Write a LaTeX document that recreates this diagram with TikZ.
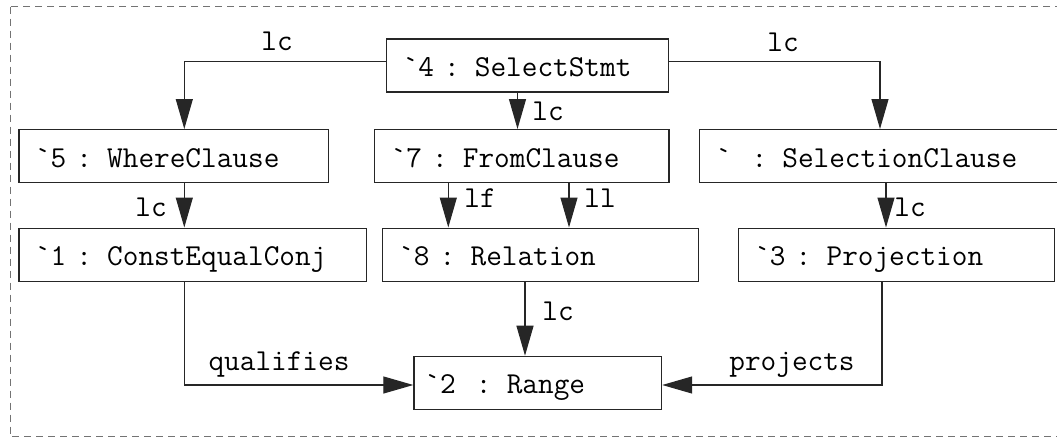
\documentclass[tikz,border=0pt]{standalone}
\usetikzlibrary{arrows.meta}
\newcommand{\dgfont}{\fontsize{30.4}{36}\selectfont\ttfamily}
\begin{document}
\begin{tikzpicture}[x=1pt,y=-1pt,
  box/.style={draw=black!85, line width=1.2pt, anchor=north west,
    inner xsep=16pt, inner ysep=0pt, minimum height=53pt, align=left,
    text height=28pt, text depth=6pt, font=\dgfont},
  lbl/.style={anchor=base, font=\dgfont, inner sep=0pt},
  arr/.style={draw=black!85, line width=1.2pt, -{Triangle[length=30pt,width=17pt]}},
  frame/.style={draw=black!55, line width=1pt, dash pattern=on 7pt off 5pt}]
\useasboundingbox (0,0) rectangle (1057,439);
\clip (0,0) rectangle (1057,439);
\draw[frame] (10,6.7) rectangle (1090,436.7);

\node[box, text width=250pt] (sel) at (386,38.3) {\textasciigrave 4 : SelectStmt};
\node[box, text width=277.7pt] (where) at (18.3,129) {\textasciigrave 5 : WhereClause};
\node[box, text width=262.3pt] (from) at (374,129) {\textasciigrave 7 : FromClause};
\node[box, text width=368pt] (selc) at (699,129) {\textasciigrave~~: SelectionClause};
\node[box, text width=315.7pt] (const) at (18.3,227.5) {\textasciigrave 1 : ConstEqualConj};
\node[box, text width=284pt] (rel) at (381.7,227.5) {\textasciigrave 8 : Relation};
\node[box, text width=284.3pt] (proj) at (737.7,227.5) {\textasciigrave 3 : Projection};
\node[box, inner xsep=10.5pt, text width=226.7pt] (range) at (413.3,355.7) {\textasciigrave 2~~: Range};

\coordinate (jL) at (184.3,61.5);
\coordinate (jR) at (880,61.5);
\coordinate (xS) at (517.5,0);
\coordinate (xW) at (184.3,0);
\coordinate (xLf) at (448.3,0);
\coordinate (xLl) at (569,0);
\coordinate (xP) at (886,0);
\coordinate (xR) at (525,0);
\coordinate (jQ) at (184.3,385);
\coordinate (jP) at (882,385);

\draw[arr] (sel.west |- jL) -- (jL) -- (where.north -| jL);
\draw[arr] (sel.east |- jR) -- (jR) -- (selc.north -| jR);
\draw[arr] (sel.south -| xS) -- (from.north -| xS);
\draw[arr] (where.south -| xW) -- (const.north -| xW);
\draw[arr] (from.south -| xLf) -- (rel.north -| xLf);
\draw[arr] (from.south -| xLl) -- (rel.north -| xLl);
\draw[arr] (selc.south -| xP) -- (proj.north -| xP);
\draw[arr] (rel.south -| xR) -- (range.north -| xR);
\draw[arr] (const.south -| jQ) -- (jQ) -- (range.west |- jQ);
\draw[arr] (proj.south -| jP) -- (jP) -- (range.east |- jP);

\node[lbl] (l1) at (277,50.7) {lc};
\node[lbl] (l2) at (783,51) {lc};
\node[lbl] (l3) at (548,120.5) {lc};
\node[lbl] (l4) at (151,216) {lc};
\node[lbl] (l5) at (480,207) {lf};
\node[lbl] (l6) at (600,207) {ll};
\node[lbl] (l7) at (910,216) {lc};
\node[lbl] (l8) at (558,320) {lc};
\node[lbl] (l9) at (279,370) {qualifies};
\node[lbl] (l10) at (792,370) {projects};
\end{tikzpicture}
\end{document}
